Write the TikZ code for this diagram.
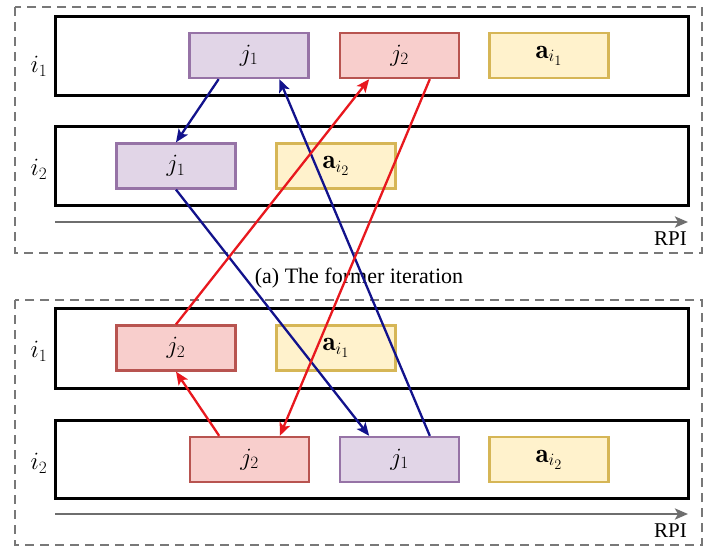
\documentclass[tikz,border=0pt]{standalone}
\usepackage{fontspec}
\newfontfamily\capfont{Liberation Serif}
\usetikzlibrary{calc,arrows.meta}

\definecolor{purpfill}{HTML}{E1D5E7}
\definecolor{purpline}{HTML}{9673A6}
\definecolor{redfill}{HTML}{F8CECC}
\definecolor{redline}{HTML}{B85450}
\definecolor{yelfill}{HTML}{FFF2CC}
\definecolor{yelline}{HTML}{D6B656}
\definecolor{navy}{RGB}{18,18,140}
\definecolor{arred}{RGB}{232,24,30}
\definecolor{framegray}{RGB}{120,120,120}
\definecolor{axisgray}{RGB}{110,110,110}

\tikzset{
  cell/.style={minimum width=119pt,minimum height=45pt,inner sep=0pt,line width=2.3pt,
               font=\fontsize{27}{32}\selectfont},
  purp/.style={cell,fill=purpfill,draw=purpline},
  redc/.style={cell,fill=redfill,draw=redline},
  yel/.style={cell,fill=yelfill,draw=yelline},
  rowbox/.style={draw=black,line width=3pt},
  frame/.style={draw=framegray,line width=2.6pt,dash pattern=on 9pt off 6pt},
  axis/.style={draw=axisgray,line width=2.6pt,-{Stealth[length=13pt,width=11pt,inset=3pt]}},
  rowlabel/.style={font=\fontsize{27}{32}\selectfont},
  rpi/.style={font=\capfont\fontsize{21}{25}\selectfont,anchor=base east,inner sep=0pt},
  bluearr/.style={draw=navy,line width=2.3pt,-{Stealth[length=13pt,width=11pt,inset=3pt]}},
  redarr/.style={draw=arred,line width=2.3pt,-{Stealth[length=13pt,width=11pt,inset=3pt]}},
}

\begin{document}
\begin{tikzpicture}[x=1pt,y=-1pt]
\useasboundingbox (0,0) rectangle (707,546);
\fill[white] (0,0) rectangle (707,546);

% outer dashed frames
\draw[frame] (15,7) rectangle (702,253);
\draw[frame] (15,300) rectangle (702,545);

% rows of the former iteration
\draw[rowbox] (55,16) rectangle (688,95);
\draw[rowbox] (55,126) rectangle (688,205);
% rows of the current iteration
\draw[rowbox] (55,308) rectangle (688,388);
\draw[rowbox] (55,420) rectangle (688,498);

% RPI axes
\coordinate (axAs) at (55,222);
\coordinate (axAe) at (688,222);
\coordinate (axBs) at (55,514);
\coordinate (axBe) at (688,514);
\draw[axis] (axAs) -- (axAe);
\draw[axis] (axBs) -- (axBe);
\node[rpi] (rpiA) at (687,245) {RPI};
\node[rpi] (rpiB) at (687,537) {RPI};

% row labels
\node[rowlabel] (lA1) at (39,66) {$i_1$};
\node[rowlabel] (lA2) at (39,169) {$i_2$};
\node[rowlabel] (lB1) at (39,351) {$i_1$};
\node[rowlabel] (lB2) at (39,463) {$i_2$};

% caption
\node[font=\capfont\fontsize{22}{26}\selectfont,inner sep=0pt] (cap) at (359,278) {(a) The former iteration};

% cells of the former iteration
\node[purp] (A1j1) at (249,55.5) {$j_1$};
\node[redc] (A1j2) at (399.5,55.5) {$j_2$};
\node[yel]  (A1a)  at (549,55.5) {$\mathbf{a}_{i_1}$};
\node[purp] (A2j1) at (176,166) {$j_1$};
\node[yel]  (A2a)  at (336,166) {$\mathbf{a}_{i_2}$};

% cells of the current iteration
\node[redc] (B1j2) at (176,348) {$j_2$};
\node[yel]  (B1a)  at (336,348) {$\mathbf{a}_{i_1}$};
\node[redc] (B2j2) at (249.5,459.5) {$j_2$};
\node[purp] (B2j1) at (399.5,459.5) {$j_1$};
\node[yel]  (B2a)  at (549,459.5) {$\mathbf{a}_{i_2}$};

% moves of j1
\draw[bluearr] ($(A1j1.south west)!0.25!(A1j1.south east)$) -- ($(A2j1.north west)!0.5!(A2j1.north east)$);
\draw[bluearr] ($(B2j1.north west)!0.75!(B2j1.north east)$) -- ($(A1j1.south west)!0.75!(A1j1.south east)$);
\draw[bluearr] ($(A2j1.south west)!0.5!(A2j1.south east)$) -- ($(B2j1.north west)!0.25!(B2j1.north east)$);

% moves of j2
\draw[redarr] ($(B1j2.north west)!0.5!(B1j2.north east)$) -- ($(A1j2.south west)!0.25!(A1j2.south east)$);
\draw[redarr] ($(A1j2.south west)!0.75!(A1j2.south east)$) -- ($(B2j2.north west)!0.75!(B2j2.north east)$);
\draw[redarr] ($(B2j2.north west)!0.25!(B2j2.north east)$) -- ($(B1j2.south west)!0.5!(B1j2.south east)$);
\end{tikzpicture}
\end{document}
